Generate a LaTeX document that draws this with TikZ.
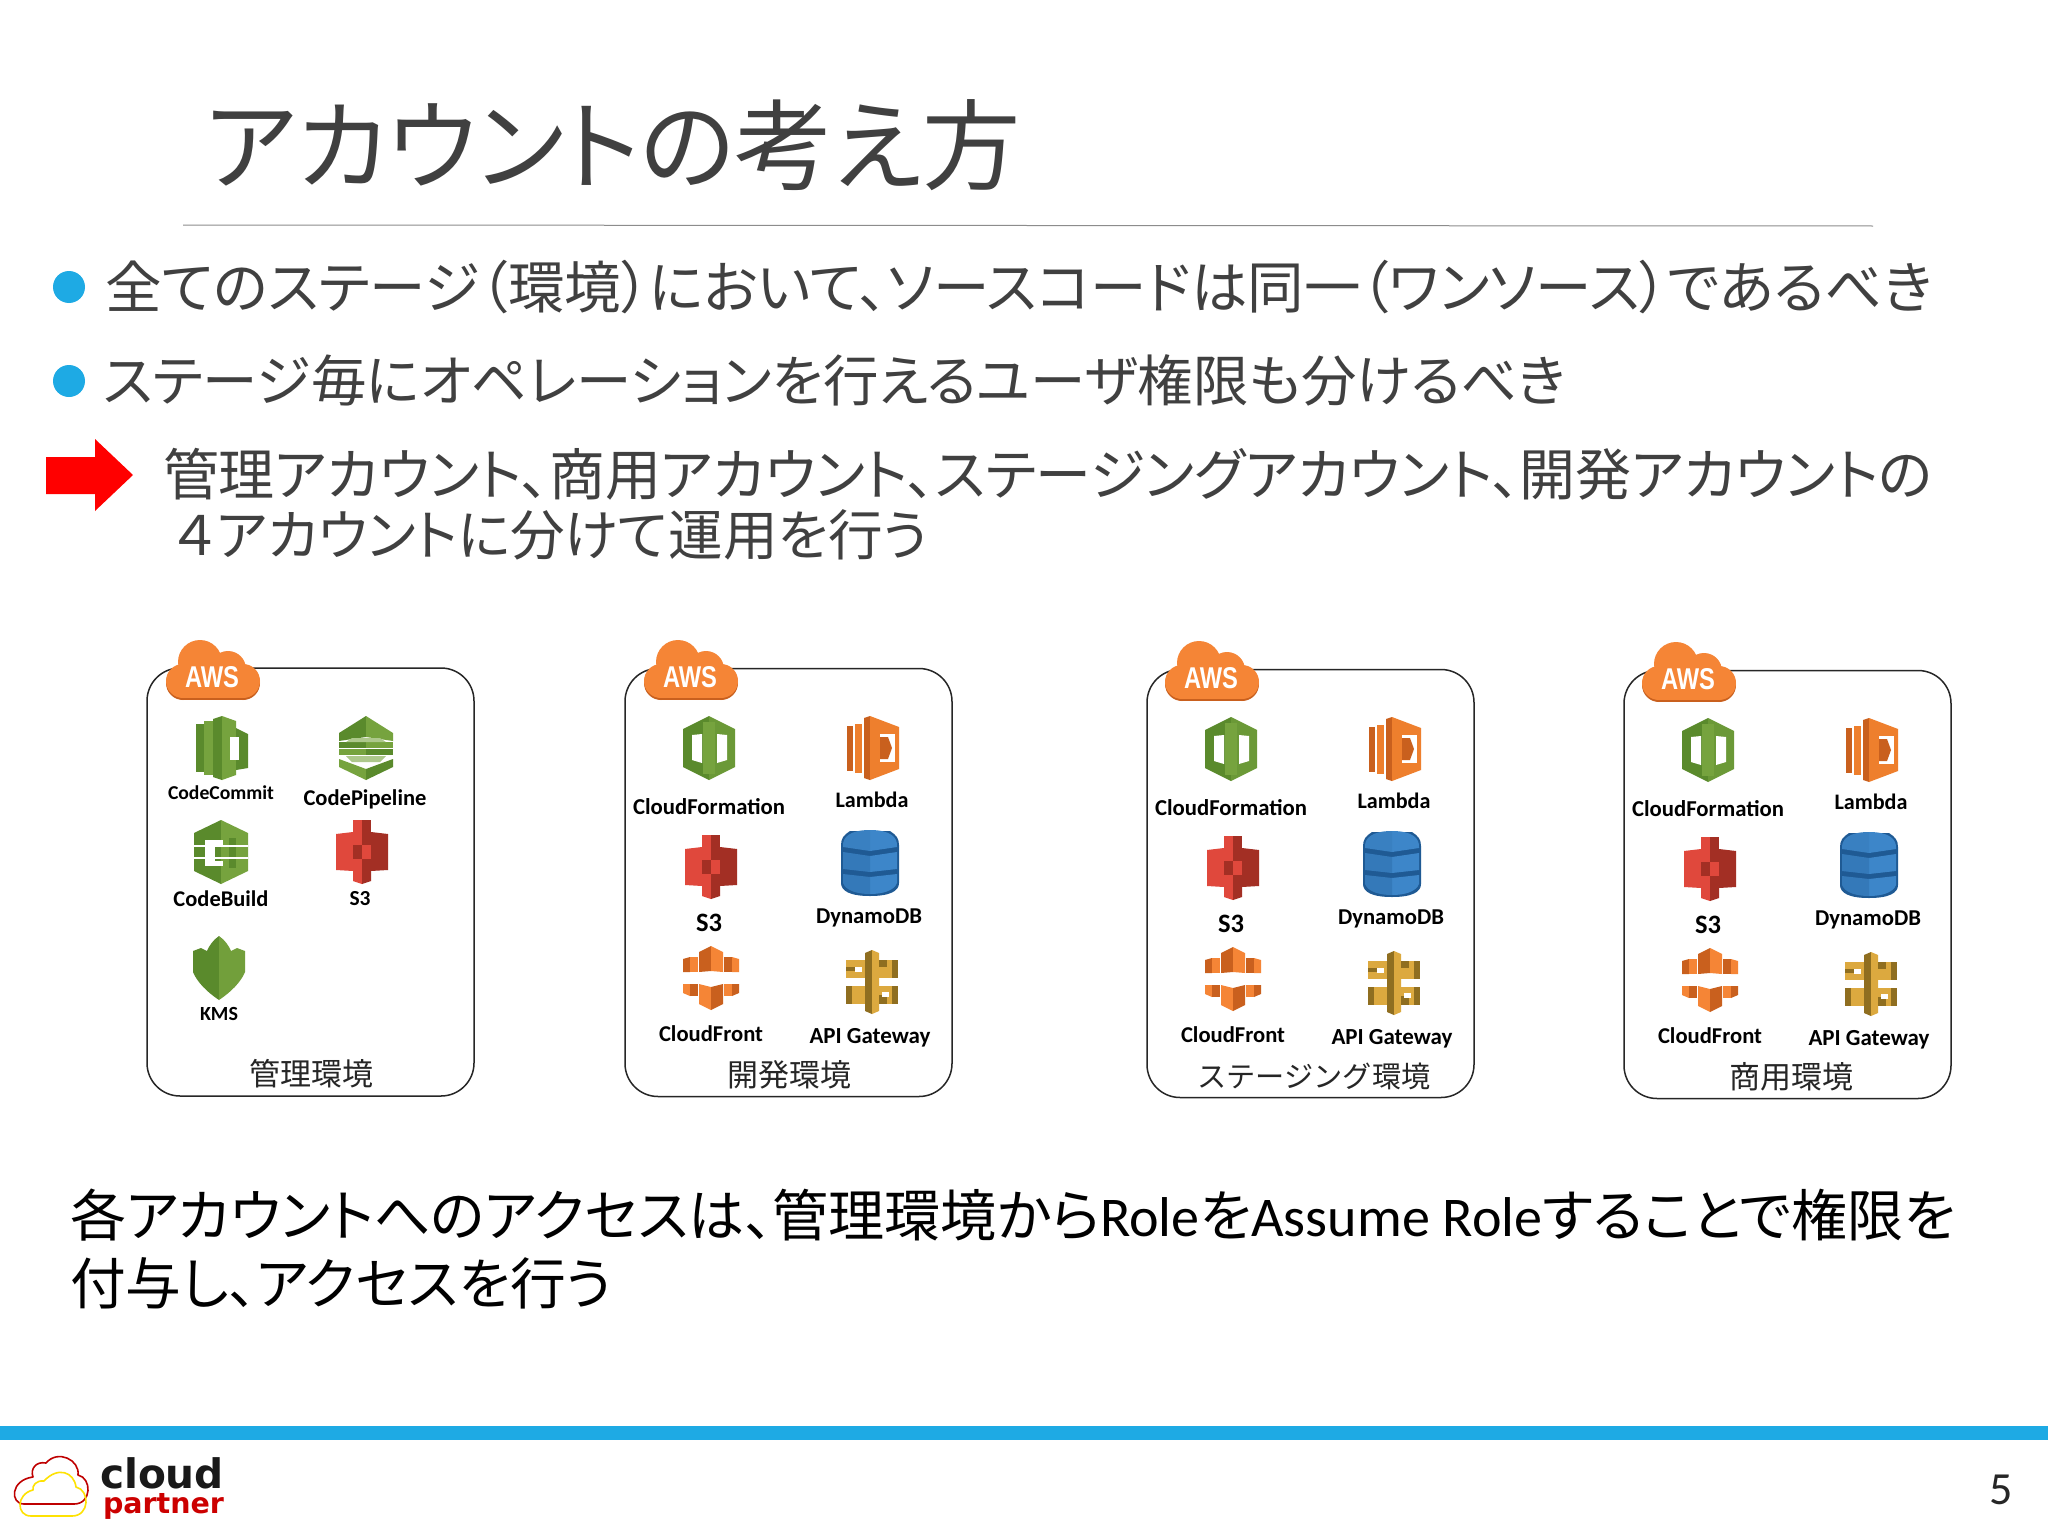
\documentclass[tikz,border=0pt]{standalone}
\usepackage{graphicx}
\usepackage{fontspec}
\setmainfont{Carlito}
\newfontfamily\cjk[RawFeature=+palt]{Noto Sans CJK JP}
\newfontfamily\cjkfull{Noto Sans CJK JP}
\newfontfamily\logofont{DejaVu Sans}
\newfontfamily\awsfont{Liberation Sans}
\newcommand\fitw[2]{\resizebox{#1pt}{!}{#2}}
\definecolor{txt}{HTML}{404040}
\definecolor{blue1}{HTML}{1EAAE4}
\definecolor{awsor}{HTML}{F58536}
\definecolor{awsdk}{HTML}{C9601E}
\definecolor{gl}{HTML}{76A33E}
\definecolor{gd}{HTML}{5A8A2C}
\definecolor{ol}{HTML}{EE7F2D}
\definecolor{od}{HTML}{C9601E}
\definecolor{rl}{HTML}{E0483C}
\definecolor{rd}{HTML}{A32F24}
\definecolor{bl}{HTML}{3D86C9}
\definecolor{bd}{HTML}{1F5A94}
\definecolor{yl}{HTML}{DCA93F}
\definecolor{yd}{HTML}{8F6E20}
\tikzset{
  every node/.style={inner sep=0pt,outer sep=0pt},
  txtline/.style={anchor=west,text=txt},
  blackline/.style={anchor=west,text=black},
  lbl/.style={text=black,font=\bfseries\fontsize{24}{24}\selectfont},
  envlabel/.style={text=black!85},
  envbox/.style={draw=black!85,line width=1.5pt,rounded corners=33pt,minimum width=327pt,minimum height=428pt},
  bullet/.style={circle,fill=blue1,minimum size=32pt},
  pics/awscloud/.style={code={
    \fill[awsdk] (-30,7) rectangle (30,30);
    \fill[awsdk] (-30,13) circle[radius=17];
    \fill[awsdk] (30,13) circle[radius=17];
    \fill[awsor] (-30,11) circle[radius=17];
    \fill[awsor] (30,11) circle[radius=17];
    \fill[awsor] (-13,-8) circle[radius=22];
    \fill[awsor] (15,-1) circle[radius=18];
    \fill[awsor] (-30,0) rectangle (30,28);
    \node[text=white,font=\awsfont\bfseries] (-t) at (-1,7) {\resizebox{54pt}{21pt}{AWS}};
  }},
  pics/cficon/.style={code={
    \fill[gd] (0,-32) -- (-26,-19) -- (-26,19) -- (0,32) -- cycle;
    \fill[gl!60!gd] (0,-32) -- (26,-19) -- (26,19) -- (0,32) -- cycle;
    \fill[gl] (-6,-26) -- (6,-26) -- (6,26) -- (-6,26) -- cycle;
    \fill[white] (-17,-13) -- (-7,-14) -- (-7,15) -- (-17,12) -- cycle;
    \fill[white] (8,-14) -- (18,-13) -- (18,12) -- (8,15) -- cycle;
  }},
  pics/lambdaicon/.style={code={
    \fill[od] (-26,-22) rectangle (-20,23);
    \fill[ol] (-18,-24) rectangle (-11,25);
    \fill[od] (-9,-30) -- (-3,-32) -- (-3,32) -- (-9,30) -- cycle;
    \fill[ol] (-3,-32) -- (26,-21) -- (26,21) -- (-3,32) -- cycle;
    \fill[white] (7,-14) rectangle (22,14);
    \fill[od] (7,-11) -- (15,-11) -- (19,0) -- (15,11) -- (7,11) -- cycle;
  }},
  pics/sthreeicon/.style={code={
    \fill[rl] (-26,-18) -- (-9,-20) -- (-9,19) -- (-26,18) -- cycle;
    \fill[rd] (26,-18) -- (9,-20) -- (9,19) -- (26,18) -- cycle;
    \fill[rl] (-9,-32) -- (0,-32) -- (0,-6) -- (-9,-6) -- cycle;
    \fill[rd] (0,-32) -- (9,-32) -- (9,-6) -- (0,-6) -- cycle;
    \fill[rd] (-9,-7) rectangle (0,7);
    \fill[rl] (0,-7) rectangle (9,7);
    \fill[rl] (-9,7) rectangle (0,14);
    \fill[rd] (0,7) rectangle (9,14);
    \fill[rl] (-9,14) -- (0,14) -- (0,32) -- (-9,29) -- cycle;
    \fill[rd] (0,14) -- (9,14) -- (9,29) -- (0,32) -- cycle;
  }},
  pics/dynamoicon/.style={code={
    \fill[bd] (-20,-32) -- (20,-32) .. controls (26,-28) and (29,-25) .. (29,-18) -- (29,20) .. controls (29,28) and (20,33) .. (0,33) .. controls (-20,33) and (-29,28) .. (-29,20) -- (-29,-18) .. controls (-29,-25) and (-26,-28) .. (-20,-32) -- cycle;
    \fill[bl] (0,-33) .. controls (20,-33) and (28,-26) .. (27,-16) -- (0,-12) -- cycle;
    \fill[bl!85!bd] (0,-33) .. controls (-20,-33) and (-28,-26) .. (-27,-16) -- (0,-12) -- cycle;
    \fill[bl] (0,-7) -- (27,-11) -- (27,6) -- (0,9) -- cycle;
    \fill[bl!70!bd] (0,-7) -- (-27,-11) -- (-27,6) -- (0,9) -- cycle;
    \fill[bl] (0,14) -- (27,11) -- (27,20) .. controls (24,28) and (12,31) .. (0,31) -- cycle;
    \fill[bl!70!bd] (0,14) -- (-27,11) -- (-27,20) .. controls (-24,28) and (-12,31) .. (0,31) -- cycle;
  }},
  pics/fronticon/.style={code={
    \fill[od] (-28,-6) -- (-28,-19) -- (-21,-21) -- (-21,-6) -- cycle;
    \fill[awsor] (-21,-21) -- (-13,-21) -- (-13,-6) -- (-21,-6) -- cycle;
    \fill[od] (-12,-26) -- (0,-32) -- (0,-7) -- (-12,-6) -- cycle;
    \fill[awsor] (0,-32) -- (12,-26) -- (12,-6) -- (0,-7) -- cycle;
    \fill[od] (13,-21) -- (21,-21) -- (21,-6) -- (13,-6) -- cycle;
    \fill[awsor] (21,-21) -- (28,-19) -- (28,-6) -- (21,-6) -- cycle;
    \fill[awsor] (-28,6) -- (-21,6) -- (-21,18) -- (-28,15) -- cycle;
    \fill[od] (-21,6) -- (-13,6) -- (-13,18) -- (-21,18) -- cycle;
    \fill[awsor] (-12,6) -- (0,9) -- (0,32) -- (-12,26) -- cycle;
    \fill[od] (0,9) -- (12,6) -- (12,26) -- (0,32) -- cycle;
    \fill[awsor] (13,6) -- (21,6) -- (21,18) -- (13,18) -- cycle;
    \fill[od] (21,6) -- (28,6) -- (28,15) -- (21,18) -- cycle;
  }},
  pics/apiicon/.style={code={
    \fill[yd] (-7,-29) -- (0,-32) -- (0,32) -- (-7,29) -- cycle;
    \fill[yl] (0,-32) -- (7,-29) -- (7,29) -- (0,32) -- cycle;
    \fill[yl] (-26,-22) rectangle (-7,-4);
    \fill[yl] (26,-22) rectangle (7,-4);
    \fill[yl] (-26,4) rectangle (-7,22);
    \fill[yl] (26,4) rectangle (7,22);
    \fill[yd] (-26,-15) rectangle (-15,-11);
    \fill[yd] (7,-22) rectangle (15,-15);
    \fill[yd] (20,-22) rectangle (26,-4);
    \fill[yd] (-26,4) rectangle (-20,22);
    \fill[yd] (7,13) rectangle (15,22);
    \fill[yd] (20,4) rectangle (26,22);
    \fill[white] (-17,-15) rectangle (-10,-10);
    \fill[white] (10,10) rectangle (17,15);
  }},
  pics/commiticon/.style={code={
    \fill[gd] (-26,-24) rectangle (-18,24);
    \fill[gl] (-18,-27) rectangle (-9,27);
    \fill[gd] (-9,-29) -- (0,-32) -- (0,32) -- (-9,29) -- cycle;
    \fill[gl] (0,-32) -- (14,-27) -- (14,27) -- (0,32) -- cycle;
    \fill[gd] (14,-20) -- (26,-14) -- (26,20) -- (14,22) -- cycle;
    \fill[white] (8,-11) rectangle (17,12);
  }},
  pics/pipeicon/.style={code={
    \fill[gd] (0,-32) -- (-27,-15) -- (-27,-7) -- (0,-11) -- cycle;
    \fill[gl] (0,-32) -- (27,-15) -- (27,-7) -- (0,-11) -- cycle;
    \fill[gd] (-27,-6) rectangle (0,0);
    \fill[gl] (0,-6) rectangle (27,0);
    \fill[gl!60!white] (-14,-10) -- (14,-10) -- (20,-6) -- (-20,-6) -- cycle;
    \fill[gl] (-27,1) rectangle (0,7);
    \fill[gd] (0,1) rectangle (27,7);
    \fill[gl!60!white] (-20,8) -- (20,8) -- (14,14) -- (-14,14) -- cycle;
    \fill[gl] (-27,11) -- (0,21) -- (0,32) -- (-27,19) -- cycle;
    \fill[gd] (27,11) -- (0,21) -- (0,32) -- (27,19) -- cycle;
  }},
  pics/buildicon/.style={code={
    \fill[gd] (0,-32) -- (-27,-19) -- (-27,19) -- (0,32) -- cycle;
    \fill[gl] (0,-32) -- (27,-19) -- (27,19) -- (0,32) -- cycle;
    \fill[gd] (8,-14) rectangle (15,16);
    \fill[white] (-27,-7) rectangle (27,-5);
    \fill[white] (-27,5) rectangle (27,7);
    \fill[white] (-16,-12) rectangle (-6,14);
    \fill[white] (-6,-12) rectangle (2,-7);
    \fill[white] (-6,9) rectangle (2,14);
  }},
  pics/kmsicon/.style={code={
    \fill[gd] (0,-32) .. controls (-6,-28) and (-10,-22) .. (-12,-17) -- (-18,-20) -- (-26,-17) -- (-26,4) .. controls (-22,14) and (-12,24) .. (0,32) -- cycle;
    \fill[gl!85!gd] (0,-32) .. controls (6,-28) and (10,-22) .. (12,-17) -- (18,-20) -- (26,-17) -- (26,4) .. controls (22,14) and (12,24) .. (0,32) -- cycle;
  }},
}
\newcommand\sixicons{%
  \pic at (709,748) {cficon};
  \pic at (873,748) {lambdaicon};
  \pic at (711,867) {sthreeicon};
  \pic at (870,863) {dynamoicon};
  \pic at (711,978) {fronticon};
  \pic at (872,982) {apiicon};
  \node[lbl] (cfn) at (709,807) {\fitw{152}{CloudFormation}};
  \node[lbl] (lam) at (872,800) {\fitw{73}{Lambda}};
  \node[lbl] (sth) at (709,923) {\fitw{26}{S3}};
  \node[lbl] (dyn) at (869,918) {\fitw{106}{DynamoDB}};
  \node[lbl] (frt) at (711,1034) {\fitw{104}{CloudFront}};
  \node[lbl] (api) at (870,1038) {\fitw{121}{API Gateway}};
}
\begin{document}
\begin{tikzpicture}[x=1pt,y=-1pt]
\useasboundingbox (0,0) rectangle (2048,1536);
\fill[white] (0,0) rectangle (2048,1536);
% title
\node[txtline] (title) at (205,145) {\cjk\fitw{815}{アカウントの考え方}};
\draw[black!45,line width=1pt] (183,225) -- (1873,226);
% bullets
\node[bullet] (b1) at (69,287) {};
\node[bullet] (b2) at (69,381) {};
\node[txtline] (l1) at (105,287) {\cjk\fitw{1827}{全てのステージ（環境）において、ソースコードは同一（ワンソース）であるべき}};
\node[txtline] (l2) at (103,380) {\cjk\fitw{1462}{ステージ毎にオペレーションを行えるユーザ権限も分けるべき}};
% arrow
\fill[red] (46,457) -- (95,457) -- (95,439) -- (133,475) -- (95,511) -- (95,494) -- (46,494) -- cycle;
\node[txtline] (l3) at (163,474) {\cjk\fitw{1769}{管理アカウント、商用アカウント、ステージングアカウント、開発アカウントの}};
\node[txtline] (l4) at (175,535) {\cjk\fitw{753}{４アカウントに分けて運用を行う}};
% environment 1
\node[envbox] (box1) at (310.5,882) {};
\pic at (213,670) {awscloud};
\pic at (222,748) {commiticon};
\pic at (366,748) {pipeicon};
\pic at (221,852) {buildicon};
\pic at (362,852) {sthreeicon};
\pic at (219,968) {kmsicon};
\node[lbl] (cc) at (221,793) {\fitw{106}{CodeCommit}};
\node[lbl] (cp) at (365,799) {\fitw{123}{CodePipeline}};
\node[lbl] (cb) at (221,899) {\fitw{95}{CodeBuild}};
\node[lbl] (s3a) at (360,899) {\fitw{21}{S3}};
\node[lbl] (kms) at (219,1014) {\fitw{38}{KMS}};
\node[envlabel] (lab1) at (311,1074) {\cjkfull\fitw{124}{管理環境}};
% environment 2
\node[envbox] (box2) at (788.5,882.5) {};
\pic at (691,670) {awscloud};
\begin{scope}[name prefix=a-]\sixicons\end{scope}
\node[envlabel] (lab2) at (789,1075) {\cjkfull\fitw{124}{開発環境}};
% environment 3
\node[envbox] (box3) at (1310.5,883.5) {};
\pic at (1212,671) {awscloud};
\begin{scope}[shift={(522,1)},name prefix=b-]\sixicons\end{scope}
\node[envlabel] (lab3) at (1314,1076) {\cjkfull\fitw{233}{ステージング環境}};
% environment 4
\node[envbox] (box4) at (1787.5,884.5) {};
\pic at (1689,672) {awscloud};
\begin{scope}[shift={(999,2)},name prefix=c-]\sixicons\end{scope}
\node[envlabel] (lab4) at (1791,1077) {\cjkfull\fitw{124}{商用環境}};
% bottom text
\node[blackline] (l5) at (70,1215) {\fitw{1885}{\cjk 各アカウントへのアクセスは、管理環境から{\rmfamily Role}を{\rmfamily Assume Role}することで権限を}};
\node[blackline] (l6) at (70,1283) {\cjk\fitw{542}{付与し、アクセスを行う}};
% footer
\fill[blue1] (0,1426) rectangle (2048,1440);
\draw[red!75!black,line width=1.6pt,line cap=round,line join=round] (24,1504) -- (74,1504) .. controls (92,1504) and (92,1478) .. (78,1475) .. controls (80,1460) and (58,1449) .. (46,1463) .. controls (36,1461) and (30,1469) .. (33,1477) .. controls (10,1480) and (10,1504) .. (24,1504) -- cycle;
\draw[yellow!85!orange,line width=1.6pt,line cap=round,line join=round] (31,1516) -- (72,1516) .. controls (90,1516) and (90,1490) .. (76,1487) .. controls (74,1472) and (58,1466) .. (44,1481) .. controls (36,1480) and (32,1486) .. (33,1490) .. controls (16,1494) and (16,1516) .. (31,1516) -- cycle;
\node[anchor=base west,text=black!90] (logoa) at (100,1488) {\logofont\bfseries\fitw{124}{cloud}};
\node[anchor=base west,text=red!80!black] (logob) at (103,1513) {\logofont\bfseries\fitw{121}{partner}};
\node[text=black!85,font=\fontsize{46}{46}\selectfont] (pagenum) at (2001,1490) {5};
\end{tikzpicture}
\end{document}
